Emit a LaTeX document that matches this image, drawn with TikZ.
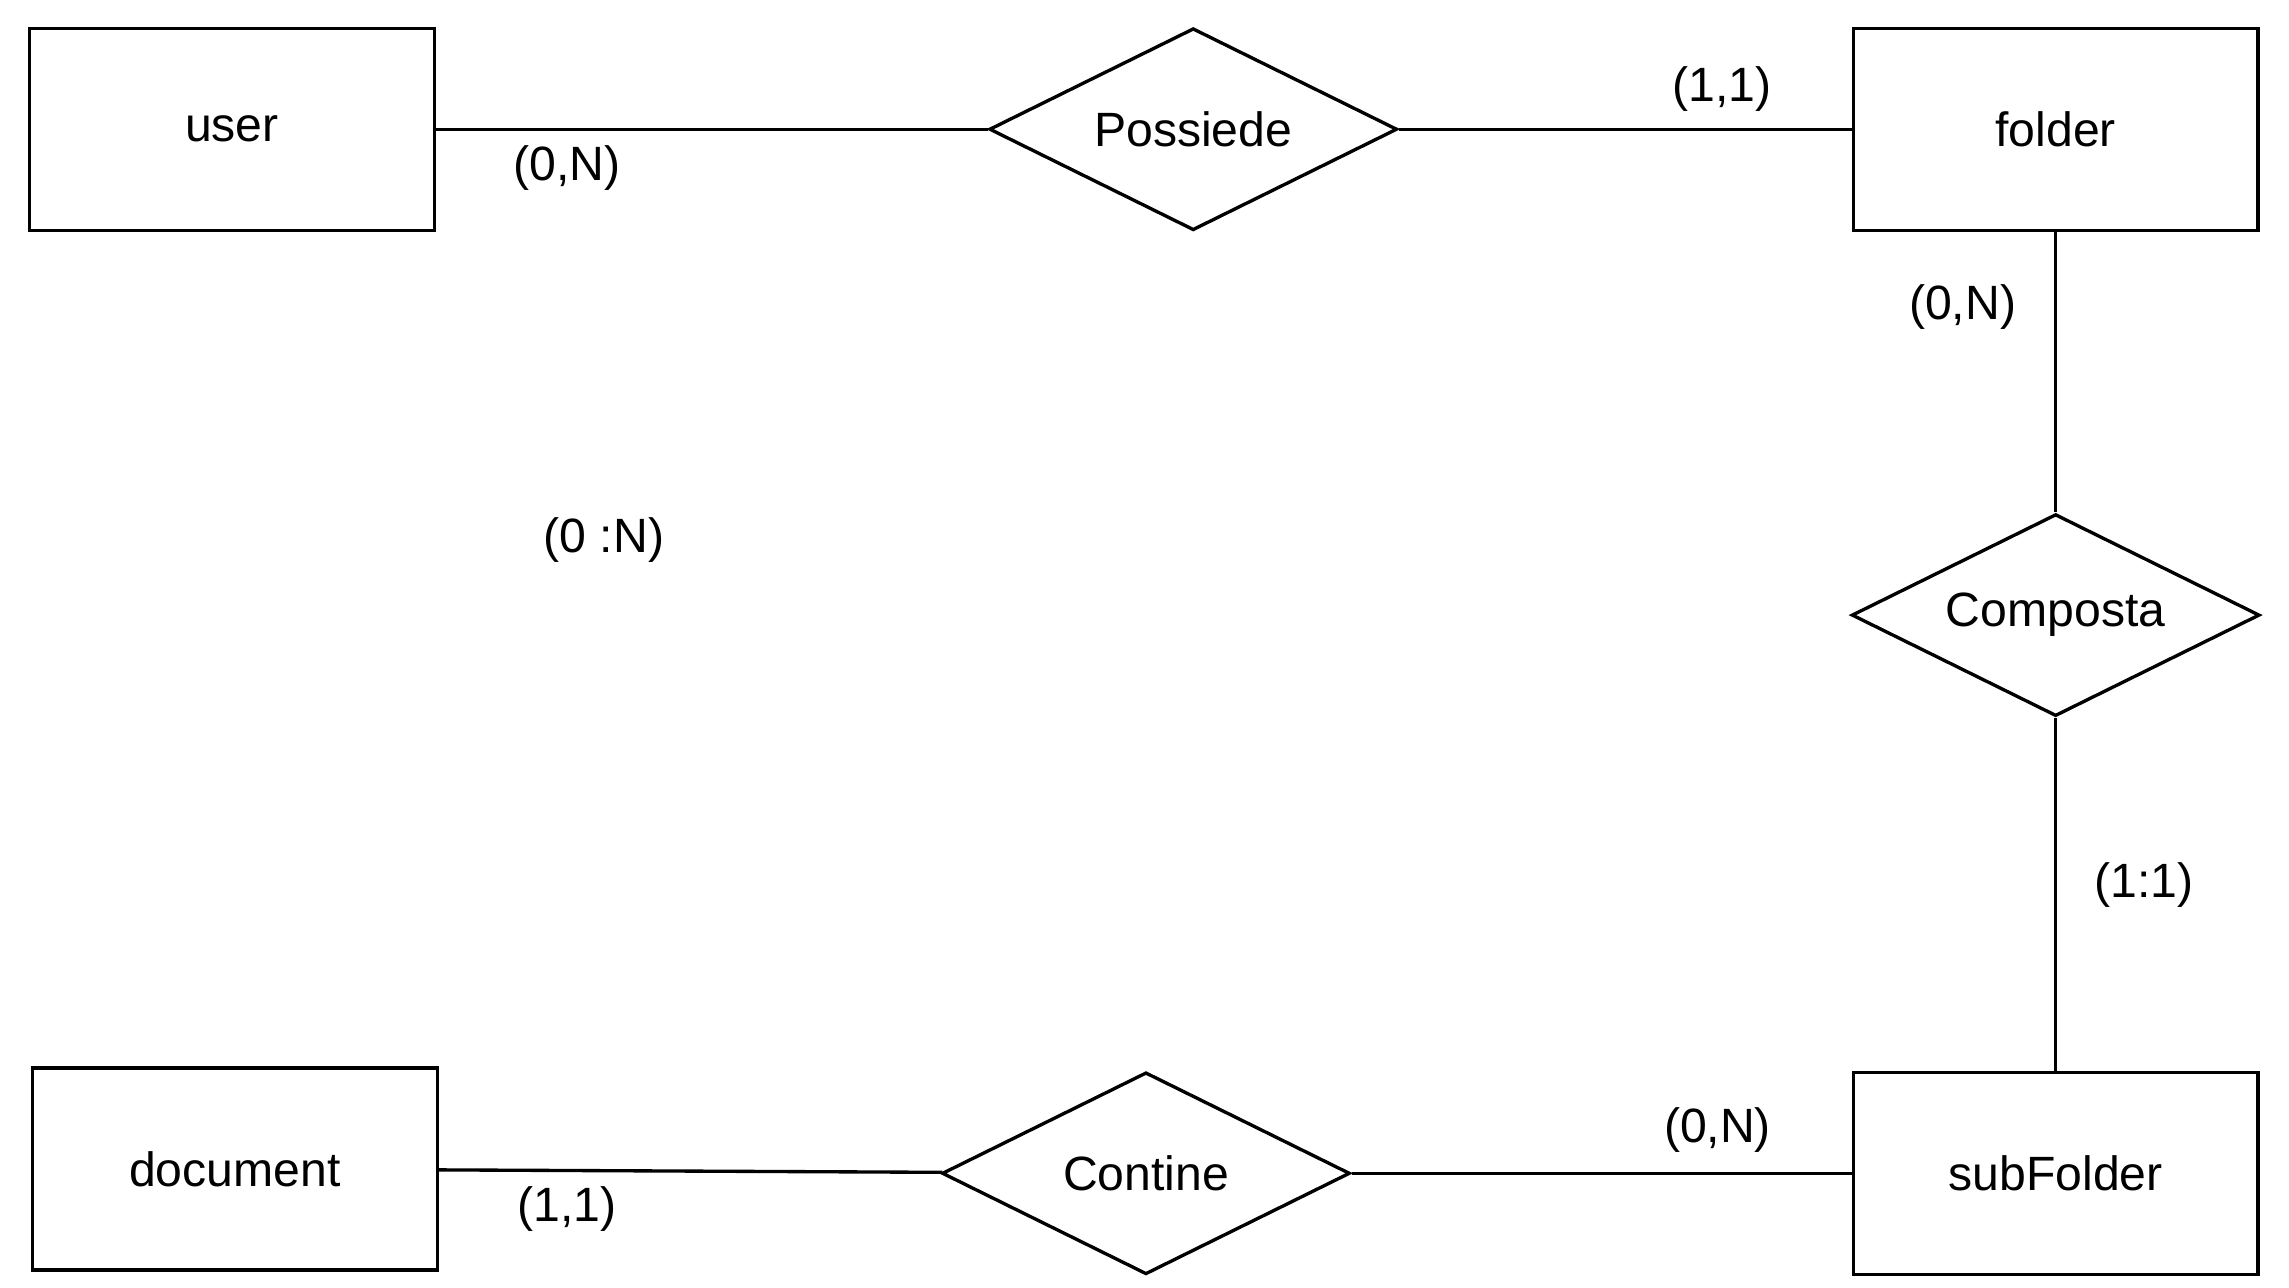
\documentclass[tikz,border=0pt]{standalone}
\usepackage{fontspec}
\setmainfont{Liberation Sans}
\usetikzlibrary{shapes.geometric, positioning}
\tikzstyle{entity}=[rectangle, draw, line width=0.95pt, minimum width=4.05cm, minimum height=2.02cm, inner sep=0pt]
\tikzstyle{relation}=[diamond, draw, line width=0.95pt, aspect=2, minimum width=4.08cm, minimum height=2.02cm, inner sep=0pt]
\tikzstyle{card}=[inner sep=0pt]

\begin{document}
\begin{tikzpicture}[x=0.014768cm, y=-0.014768cm, every node/.style={font=\fontsize{13.7}{16}\selectfont}]
    \useasboundingbox (0,0) rectangle (1550,872);

    \node[entity]   (user)   at (157,87.5)   {user};
    \node[relation] (poss)   at (808,87.5)   {Possiede};
    \node[entity]   (folder) at (1392,87.5)  {folder};
    \node[relation] (comp)   at (1392,416.5) {Composta};
    \node[entity]   (subf)   at (1392,794.5) {subFolder};
    \node[relation] (cont)   at (776,794.5)  {Contine};
    \node[entity]   (doc)    at (159,791.5)  {document};

    % cardinalities
    \node[card] (c1) at (384,114)  {(0,N)};
    \node[card] (c2) at (1166,60)  {(1,1)};
    \node[card] (c3) at (1329,208) {(0,N)};
    \node[card] (c4) at (409,366)  {(0 :N)};
    \node[card] (c5) at (1452,599) {(1:1)};
    \node[card] (c6) at (1163,765) {(0,N)};
    \node[card] (c7) at (384,819)  {(1,1)};

    \path[draw, line width=0.95pt]
      (user)   edge (poss)
      (poss)   edge (folder)
      (folder) edge (comp)
      (comp)   edge (subf)
      (doc)    edge (cont)
      (cont)   edge (subf);
\end{tikzpicture}
\end{document}
